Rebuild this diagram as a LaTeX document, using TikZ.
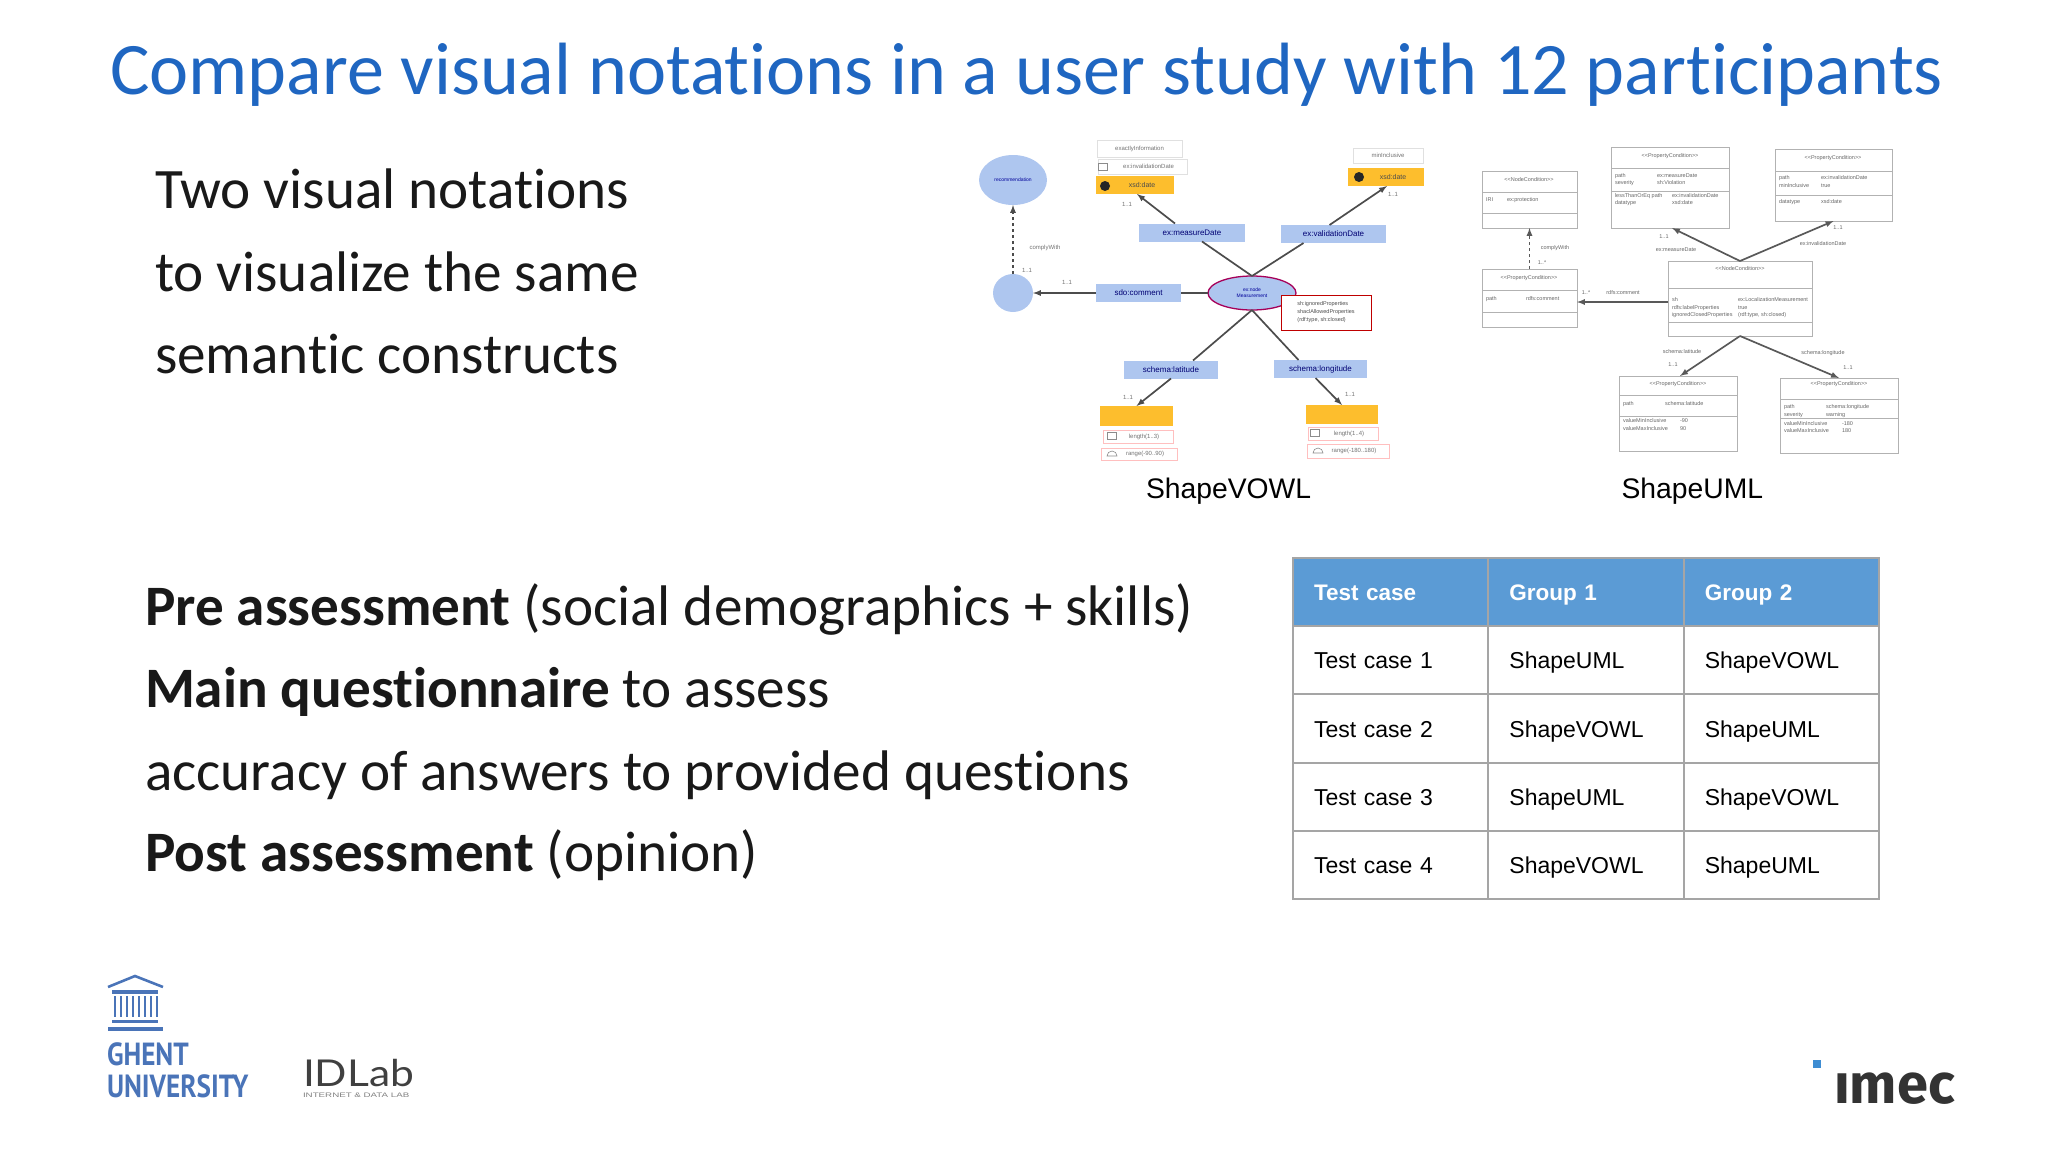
\documentclass[tikz,border=0pt]{standalone}
\usepackage{fontspec}
\setmainfont{Carlito}[Ligatures=NoCommon]
\newfontfamily\arialfont{Liberation Sans}
\newfontfamily\ghentfont{PT Sans}
\newfontfamily\labfont{Lato}
\newfontfamily\imecfont{Fira Sans}
\usetikzlibrary{shapes,% ellipses for the class nodes
matrix}%                 the table is a grid of cells
\definecolor{titleblue}{HTML}{1F66C1}
\definecolor{headblue}{HTML}{5B9BD5}
\definecolor{cellgrey}{HTML}{A5A5A5}
\definecolor{classblue}{HTML}{AEC6EF}
\definecolor{datayellow}{HTML}{FDBE2D}
\definecolor{ugentblue}{HTML}{4A74B8}
\tikzset{every node/.style={inner sep=0pt, outer sep=0pt}}

\begin{document}
\begin{tikzpicture}[
  x=1pt, y=-1pt,
  titletext/.style={anchor=base west, text=titleblue, font=\fontsize{74.1}{74}\selectfont},
  bodytext/.style={anchor=base west, text=black!90, font=\fontsize{57.2}{57}\selectfont},
  captext/.style={anchor=base, font=\arialfont\fontsize{28.3}{28.3}\selectfont},
  vowlclass/.style={shape=ellipse, fill=classblue, text=blue!60!black, font=\arialfont\fontsize{5}{6}\selectfont, align=center},
  propbox/.style={fill=classblue, minimum height=18pt, text=blue!45!black, font=\arialfont\fontsize{8}{8}\selectfont},
  datatype/.style={fill=datayellow, font=\arialfont\fontsize{7}{7}\selectfont, text=black!70},
  facet/.style={draw=black!12, fill=white, text=black!55, font=\arialfont\fontsize{6}{6}\selectfont},
  facet icon/.style={draw=black!45, line width=0.6pt, minimum width=9pt, minimum height=7pt},
  tiny label/.style={text=black!55, font=\arialfont\fontsize{6}{6}\selectfont},
  vowlline/.style={draw=black!70, line width=1.7pt},
  umlclass/.style={shape=rectangle, draw=black!30, line width=0.9pt},
  umlrule/.style={draw=black!30, line width=0.8pt},
  umlline/.style={draw=black!65, line width=1.7pt},
  umltext/.style={anchor=west, text=black!60, font=\arialfont\fontsize{5.5}{6}\selectfont}
]
\useasboundingbox (0,0) rectangle (2048,1152);

\path (110,94) node[titletext] (title) {Compare visual notations in a user study with 12 participants};

\path (155,208) node[bodytext] (two1) {Two visual notations};
\path (155,291) node[bodytext] (two2) {to visualize the same};
\path (155,373) node[bodytext] (two3) {semantic constructs};

\path (145,625) node[bodytext] (pre) {\textbf{Pre assessment} (social demographics + skills)};
\path (145,707) node[bodytext] (main) {\textbf{Main questionnaire} to assess};
\path (145,790) node[bodytext] (acc) {accuracy of answers to provided questions};
\path (145,871) node[bodytext] (post) {\textbf{Post assessment} (opinion)};

% ShapeVOWL
\path (1013,180) node[vowlclass, minimum width=68pt, minimum height=50pt] (rec) {recommendation};
\path (1013,293) node[vowlclass, minimum width=40pt, minimum height=38pt] (blank) {};
\path (1252,293) node[vowlclass, draw=violet!70!red, line width=1.3pt, minimum width=88pt, minimum height=34pt] (center) {ex:node\\Measurement};
\path (1138.5,293) node[propbox, minimum width=85pt] (comment) {sdo:comment};
\path (1192,232.5) node[propbox, minimum width=106pt] (measure) {ex:measureDate};
\path (1333.5,234) node[propbox, minimum width=105pt] (valid) {ex:validationDate};
\path (1171,369.5) node[propbox, minimum width=94pt] (lat) {schema:latitude};
\path (1320.5,369) node[propbox, minimum width=93pt] (lon) {schema:longitude};
\path (1326,312.5) node[draw=red!75!black, fill=white, line width=1pt, minimum width=90pt, minimum height=35pt, align=left, text=black!70, font=\arialfont\fontsize{5.5}{8}\selectfont] (closed) {sh:ignoredProperties\\shaclAllowedProperties\\(rdf:type, sh:closed)};

\path (1139.5,148.5) node[facet, minimum width=85pt, minimum height=17pt] (finfo) {exactlyInformation};
\path (1142.5,166.5) node[facet, minimum width=89pt, minimum height=15pt] (fless) {\hspace{12pt}ex:invalidationDate};
\path (1135,185) node[datatype, minimum width=78pt, minimum height=18pt] (dateL) {\hspace{14pt}xsd:date};
\path (1388,155.5) node[facet, minimum width=70pt, minimum height=15pt] (fdate) {minInclusive};
\path (1386,177) node[datatype, minimum width=76pt, minimum height=18pt] (dateR) {\hspace{14pt}xsd:date};
\path (1105,186) node[shape=circle, fill=black!85, minimum size=10pt] (dotL) {};
\path (1359,177) node[shape=circle, fill=black!85, minimum size=10pt] (dotR) {};

\path (1136.5,416) node[datatype, minimum width=73pt, minimum height=20pt] (floatL) {};
\path (1138,436.5) node[facet, draw=red!25, minimum width=70pt, minimum height=13pt] (lenL) {\hspace{12pt}length(1..3)};
\path (1139,454) node[facet, draw=red!25, minimum width=76pt, minimum height=12pt] (rngL) {\hspace{12pt}range(-90..90)};
\path (1342,414.5) node[datatype, minimum width=72pt, minimum height=19pt] (floatR) {};
\path (1343,433.5) node[facet, draw=red!25, minimum width=70pt, minimum height=13pt] (lenR) {\hspace{12pt}length(1..4)};
\path (1348,451) node[facet, draw=red!25, minimum width=82pt, minimum height=14pt] (rngR) {\hspace{12pt}range(-180..180)};

\path (1103,167) node[facet icon] (iconA) {};
\path (1112,436) node[facet icon] (iconB) {};
\path (1112,454) node[facet icon, shape=semicircle, minimum width=10pt, minimum height=5pt] (iconC) {};
\path (1315,433) node[facet icon] (iconD) {};
\path (1318,451) node[facet icon, shape=semicircle, minimum width=10pt, minimum height=5pt] (iconE) {};

\draw[vowlline, dashed, -latex] (blank.north) to (rec.south);
\draw[vowlline] (comment.east) to (center.west);
\draw[vowlline, -latex] (comment.west) to (blank.east);
\draw[vowlline] (center.north) to ([xshift=10pt]measure.south);
\draw[vowlline] (center.north) to ([xshift=-30pt]valid.south);
\draw[vowlline, -latex] ([xshift=-17pt]measure.north) to ([xshift=2pt]dateL.south);
\draw[vowlline, -latex] ([xshift=-4pt]valid.north) to ([xshift=1pt]dateR.south);
\draw[vowlline] (center.south) to ([xshift=22pt]lat.north);
\draw[vowlline] (center.south) to ([xshift=-22pt]lon.north);
\draw[vowlline, -latex] (lat.south) to (floatL.north);
\draw[vowlline, -latex] ([xshift=-5pt]lon.south) to (floatR.north);

\path (1045,248) node[tiny label] (comply) {complyWith};
\foreach \x/\y in {1127/204, 1393/194, 1027/270, 1067/282, 1128/397, 1350/394}
  \path (\x,\y) node[tiny label] (vm\x) {1..1};

\path (1146,498) node[captext, anchor=base west] (capvowl) {ShapeVOWL};
\path (1621.5,498) node[captext, anchor=base west] (capuml) {ShapeUML};

% ShapeUML
\path (1529.5,199.5) node[umlclass, minimum width=95pt, minimum height=57pt] (umlA) {};
\path (1529.5,298) node[umlclass, minimum width=95pt, minimum height=58pt] (umlB) {};
\path (1670,187.5) node[umlclass, minimum width=118pt, minimum height=81pt] (umlC) {};
\path (1833.5,185) node[umlclass, minimum width=117pt, minimum height=72pt] (umlD) {};
\path (1740,298.5) node[umlclass, minimum width=144pt, minimum height=75pt] (umlE) {};
\path (1678,413.5) node[umlclass, minimum width=118pt, minimum height=75pt] (umlF) {};
\path (1839,415.5) node[umlclass, minimum width=118pt, minimum height=75pt] (umlG) {};

\foreach \n/\y in {umlA/192, umlA/213, umlB/290, umlB/312, umlC/168, umlC/191, umlD/171, umlD/195, umlE/288, umlE/322, umlF/395, umlF/416, umlG/399, umlG/418}
  \draw[umlrule] (\n.west |- 0,\y) -- (\n.east |- 0,\y);

\foreach \x/\y/\t in {1529/180/{<<NodeCondition>>}, 1529/278/{<<PropertyCondition>>}, 1670/156/{<<PropertyCondition>>}, 1833/158/{<<PropertyCondition>>}, 1740/269/{<<NodeCondition>>}, 1678/384/{<<PropertyCondition>>}, 1839/384/{<<PropertyCondition>>}}
  \path (\x,\y) node[umltext, anchor=center] (umlt\x) {\t};

\foreach \x/\y/\t in {
  1486/200/{IRI}, 1507/200/{ex:protection},
  1486/299/{path}, 1526/299/{rdfs:comment},
  1615/176/{path}, 1657/176/{ex:measureDate},
  1615/183/{severity}, 1657/183/{sh:Violation},
  1615/196/{lessThanOrEq path}, 1672/196/{ex:invalidationDate},
  1615/203/{datatype}, 1672/203/{xsd:date},
  1779/178/{path}, 1821/178/{ex:invalidationDate},
  1779/186/{minInclusive}, 1821/186/{true},
  1779/202/{datatype}, 1821/202/{xsd:date},
  1672/300/{sh}, 1738/300/{ex:LocalizationMeasurement},
  1672/308/{rdfs:labelProperties}, 1738/308/{true},
  1672/315/{ignoredClosedProperties}, 1738/315/{(rdf:type, sh:closed)},
  1623/404/{path}, 1665/404/{schema:latitude},
  1623/421/{valueMinInclusive}, 1680/421/{-90},
  1623/429/{valueMaxInclusive}, 1680/429/{90},
  1784/407/{path}, 1826/407/{schema:longitude},
  1784/415/{severity}, 1826/415/{warning},
  1784/424/{valueMinInclusive}, 1842/424/{-180},
  1784/431/{valueMaxInclusive}, 1842/431/{180}}
  \path (\x,\y) node[umltext] (umlr\x-\y) {\t};

\draw[umlline, dashed, -latex] (umlB.north) to (umlA.south);
\draw[umlline, -latex] ([yshift=-3.5pt]umlE.west) to ([yshift=-4pt]umlB.east);
\draw[umlline, -latex] (umlE.north) to ([xshift=2pt]umlC.south);
\draw[umlline, -latex] (umlE.north) to (umlD.south);
\draw[umlline, -latex] (umlE.south) to ([xshift=2pt]umlF.north);
\draw[umlline, -latex] (umlE.south) to (umlG.north);

\foreach \x/\y/\t in {1555/248/{complyWith}, 1623/293/{rdfs:comment}, 1676/250/{ex:measureDate}, 1823/244/{ex:invalidationDate}, 1682/352/{schema:latitude}, 1823/353/{schema:longitude}, 1542/263/{1..*}, 1586/293/{1..*}, 1664/237/{1..1}, 1838/228/{1..1}, 1673/365/{1..1}, 1848/368/{1..1}}
  \path (\x,\y) node[umltext, anchor=center] (umll\x) {\t};

% table
\matrix (cases) [matrix of nodes, anchor=north west, column sep=-2pt, row sep=-2pt,
  nodes={shape=rectangle, draw=cellgrey, line width=2pt, anchor=center, minimum width=195.4pt, minimum height=68.2pt,
    text width=153.4pt, inner xsep=21pt, align=left, text height=17pt, text depth=0pt,
    font=\arialfont\fontsize{23}{23}\selectfont},
  row 1/.style={nodes={fill=headblue, text=white, font=\arialfont\bfseries\fontsize{22.5}{23}\selectfont}}
] at (1292,557) {
Test case & Group 1 & Group 2\\
Test case 1 & ShapeUML & ShapeVOWL\\
Test case 2 & ShapeVOWL & ShapeUML\\
Test case 3 & ShapeUML & ShapeVOWL\\
Test case 4 & ShapeVOWL & ShapeUML\\
};

% logos
\begin{scope}[color=ugentblue]
\draw[line width=2.6pt] (108,987) -- (135,976) -- (163,987);
\fill (112,990) rectangle (158,994);
\foreach \x in {115,121,...,157}
  \fill (\x-1.4,996) rectangle (\x+1.4,1017);
\fill (112,1020) rectangle (158,1023);
\fill (108,1027) rectangle (163,1031);
\end{scope}
\path (107,1065) node[anchor=base west, text=ugentblue, font=\ghentfont\bfseries\fontsize{32}{32}\selectfont, xscale=0.85] (ghent) {GHENT};
\path (107,1097) node[anchor=base west, text=ugentblue, font=\ghentfont\bfseries\fontsize{32}{32}\selectfont, xscale=0.85] (univ) {UNIVERSITY};
\path (303,1086) node[anchor=base west, text=black!75, font=\labfont\fontsize{37}{37}\selectfont, xscale=1.15] (idlab) {IDLab};
\path (303,1097) node[anchor=base west, text=black!50, font=\arialfont\fontsize{6.5}{7}\selectfont, xscale=1.5] (idsub) {INTERNET \& DATA LAB};
\path (1817,1064) node[shape=rectangle, fill=cyan!60!blue!80, minimum size=8pt] (imecdot) {};
\path (1834,1103) node[anchor=base west, text=black!80, font=\imecfont\bfseries\fontsize{56}{56}\selectfont] (imec) {ımec};
\end{tikzpicture}
\end{document}
